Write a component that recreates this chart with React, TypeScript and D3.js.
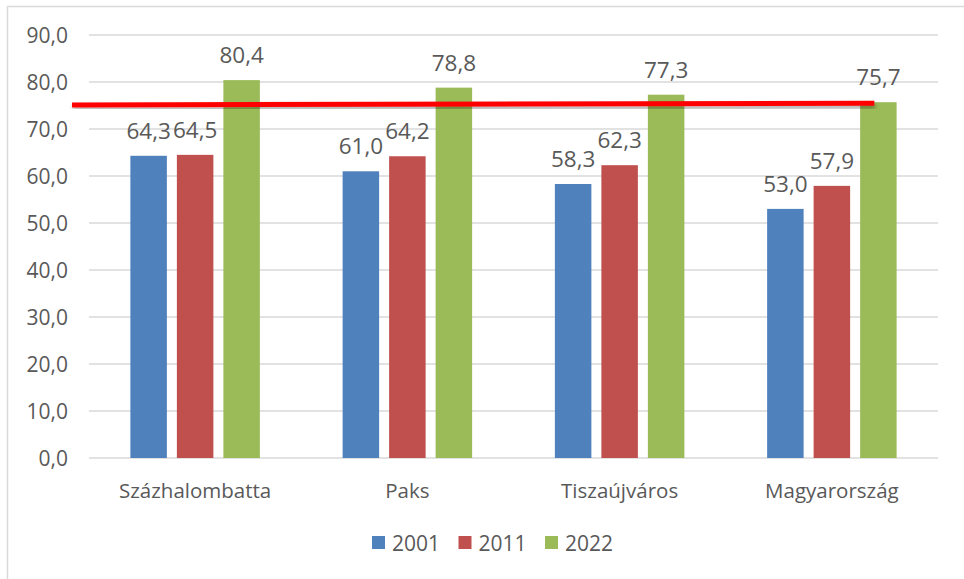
import * as d3 from 'd3';

const categories = ['Százhalombatta', 'Paks', 'Tiszaújváros', 'Magyarország'];
const seriesNames = ['2001', '2011', '2022'];
const seriesColors = ['#4F81BD', '#C0504D', '#9BBB59'];
const values2001 = [64.3, 61.0, 58.3, 53.0];
const values2011 = [64.5, 64.2, 62.3, 57.9];
const values2022 = [80.4, 78.8, 77.3, 75.7];
const yTicks = [0, 10, 20, 30, 40, 50, 60, 70, 80, 90];
// hand-drawn red marker line: [category position, value] at both ends
const redLineStart = [-0.08, 75.1];
const redLineEnd = [3.7, 75.5];

const width = 964;
const height = 579;
const plot = { left: 89, right: 938, top: 35, bottom: 458 };
const font = "'Open Sans', 'Noto Sans', sans-serif";
const textColor = '#595959';

const fmt = (v: number) => v.toFixed(1).replace('.', ',');

export default function App() {
    const allSeries = [values2001, values2011, values2022];

    const x0 = d3.scaleBand<string>()
        .domain(categories)
        .range([plot.left, plot.right])
        .padding(0);

    const groupWidth = 139.5;
    const x1 = d3.scaleBand<string>()
        .domain(seriesNames)
        .range([-groupWidth / 2, groupWidth / 2])
        .paddingInner(0.215)
        .paddingOuter(0.1075);

    const y = d3.scaleLinear()
        .domain([0, 90])
        .range([plot.bottom, plot.top]);

    // category position -> x (0 = left edge of first band)
    const xPos = d3.scaleLinear()
        .domain([0, categories.length])
        .range([plot.left, plot.right]);

    const legendStep = 86.5;
    const legendStartX = 372;

    return (
        <svg width={width} height={height} style={{ display: 'block', position: 'absolute', left: 0, top: 0 }}>
            <defs>
                <filter id="lineShadow" x="-5%" y="-200%" width="110%" height="500%">
                    <feDropShadow dx="1" dy="3" stdDeviation="2" floodColor="#000" floodOpacity="0.35" />
                </filter>
            </defs>
            <rect x={0} y={0} width={width} height={height} fill="#fff" />
            <rect x={7.5} y={6.5} width={1000} height={1000} fill="none" stroke="#d9d9d9" strokeWidth={1.5} />

            {/* gridlines */}
            {yTicks.map(t => (
                <line key={'g' + t} x1={plot.left} x2={plot.right} y1={y(t)} y2={y(t)}
                    stroke="#d9d9d9" strokeWidth={1.5} />
            ))}

            {/* y labels */}
            {yTicks.map(t => (
                <text key={'yl' + t} x={68} y={y(t)} dy="0.36em" textAnchor="end"
                    fontFamily={font} fontSize={21} fill={textColor}>{fmt(t)}</text>
            ))}

            {/* bars */}
            {categories.map((c, ci) => {
                const cx = (x0(c) ?? 0) + x0.bandwidth() / 2;
                return (
                    <g key={c}>
                        {seriesNames.map((s, si) => {
                            const v = allSeries[si][ci];
                            const bx = cx + (x1(s) ?? 0);
                            return (
                                <g key={s}>
                                    <rect x={bx} y={y(v)} width={x1.bandwidth()} height={y(0) - y(v)}
                                        fill={seriesColors[si]} />
                                    <text x={bx + x1.bandwidth() / 2} y={y(v) - 17} textAnchor="middle"
                                        fontFamily={font} fontSize={22.5} fill={textColor}>{fmt(v)}</text>
                                </g>
                            );
                        })}
                        <text x={cx} y={plot.bottom + 40} textAnchor="middle"
                            fontFamily={font} fontSize={20.5} fill={textColor}>{c}</text>
                    </g>
                );
            })}

            {/* red marker line */}
            <line x1={xPos(redLineStart[0])} y1={y(redLineStart[1])}
                x2={xPos(redLineEnd[0])} y2={y(redLineEnd[1])}
                stroke="#FF0000" strokeWidth={5} filter="url(#lineShadow)" />

            {/* legend */}
            {seriesNames.map((s, i) => (
                <g key={'lg' + s} transform={`translate(${legendStartX + i * legendStep},536)`}>
                    <rect x={0} y={0} width={13} height={13} fill={seriesColors[i]} />
                    <text x={20} y={15} fontFamily={font} fontSize={21} fill={textColor}>{s}</text>
                </g>
            ))}
        </svg>
    );
}
